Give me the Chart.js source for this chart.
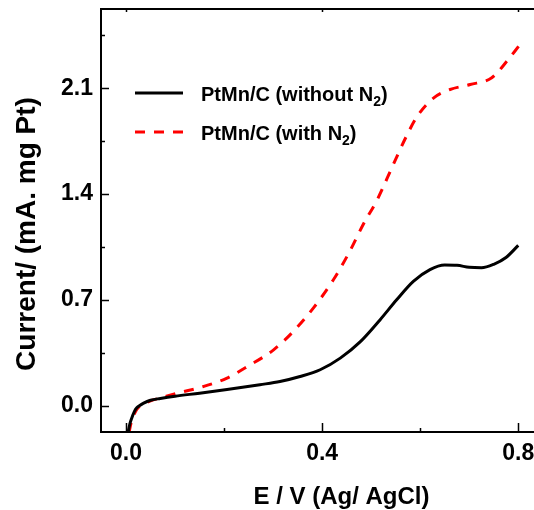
<!DOCTYPE html>
<html lang="en">
<head>
  <meta charset="UTF-8">
  <title>PtMn/C polarization curves</title>
  <script src="https://cdn.jsdelivr.net/npm/chart.js"></script>
  <style>
    body {
      margin: 0;
      overflow: hidden;
      background: #fff;
    }
    canvas {
      display: block;
    }
  </style>
</head>
<body>
  <canvas id="chart" width="590" height="510"></canvas>

  <script>
    // data: E (V vs Ag/AgCl) and current (mA / mg Pt)
    const seriesNames = ['PtMn/C (without N_2)', 'PtMn/C (with N_2)'];

    const withoutN2E = [0.004, 0.008, 0.012, 0.017, 0.022, 0.028, 0.035, 0.05, 0.07, 0.1, 0.15, 0.206,
      0.273, 0.314, 0.355, 0.396, 0.437, 0.478, 0.518, 0.552, 0.586, 0.62, 0.65, 0.675, 0.7, 0.725,
      0.75, 0.775, 0.8];
    const withoutN2I = [-0.18, -0.12, -0.08, -0.04, -0.015, 0.0, 0.014, 0.035, 0.047, 0.062, 0.082, 0.106,
      0.138, 0.159, 0.192, 0.237, 0.314, 0.423, 0.567, 0.7, 0.822, 0.9, 0.93, 0.928, 0.915, 0.912,
      0.935, 0.98, 1.06];

    const withN2E = [0.006, 0.01, 0.015, 0.022, 0.03, 0.04, 0.05, 0.07, 0.103, 0.158, 0.206, 0.25,
      0.301, 0.341, 0.382, 0.423, 0.457, 0.484, 0.512, 0.532, 0.552, 0.573, 0.593, 0.627, 0.661,
      0.702, 0.746, 0.777, 0.801];
    const withN2I = [-0.18, -0.12, -0.07, -0.025, 0.0, 0.016, 0.032, 0.05, 0.08, 0.126, 0.182, 0.263,
      0.369, 0.49, 0.645, 0.833, 1.025, 1.2, 1.36, 1.5, 1.645, 1.79, 1.91, 2.035, 2.092,
      2.125, 2.17, 2.28, 2.379];

    const xTicks = [0, 0.4, 0.8];
    const xMinorTicks = [0.2, 0.6];
    const yTicks = [0, 0.7, 1.4, 2.1];
    const yMinorTicks = [0.35, 1.05, 1.75, 2.45];
    const yTitle = 'Current/ (mA. mg Pt)';

    const FONT = '"Liberation Sans", Arial, sans-serif';

    function toPoints(xs, ys) {
      return xs.map((x, i) => ({ x: x, y: ys[i] }));
    }

    // frame, inward ticks, y title and the legend (with subscript)
    const framePlugin = {
      id: 'frame',
      afterDatasetsDraw(chart) {
        const ctx = chart.ctx;
        const a = chart.chartArea;
        const xs = chart.scales.x;
        const ys = chart.scales.y;
        ctx.save();
        ctx.strokeStyle = '#000';
        ctx.lineWidth = 2;
        ctx.strokeRect(a.left, a.top, a.right - a.left, a.bottom - a.top);

        ctx.lineWidth = 1.5;
        ctx.beginPath();
        xTicks.forEach(v => {
          const px = Math.round(xs.getPixelForValue(v)) + 0.5;
          ctx.moveTo(px, a.bottom); ctx.lineTo(px, a.bottom - 9);
          ctx.moveTo(px, a.top); ctx.lineTo(px, a.top + 3);
        });
        xMinorTicks.forEach(v => {
          const px = Math.round(xs.getPixelForValue(v)) + 0.5;
          ctx.moveTo(px, a.bottom); ctx.lineTo(px, a.bottom - 4);
        });
        yTicks.forEach(v => {
          const py = Math.round(ys.getPixelForValue(v)) + 0.5;
          ctx.moveTo(a.left, py); ctx.lineTo(a.left + 8, py);
        });
        yMinorTicks.forEach(v => {
          const py = Math.round(ys.getPixelForValue(v)) + 0.5;
          ctx.moveTo(a.left, py); ctx.lineTo(a.left + 4, py);
        });
        ctx.stroke();

        // y axis title, a little below the middle of the plot as in the original
        ctx.save();
        ctx.translate(27, 234);
        ctx.rotate(-Math.PI / 2);
        ctx.font = 'bold 28px ' + FONT;
        ctx.fillStyle = '#000';
        ctx.textAlign = 'center';
        ctx.textBaseline = 'middle';
        ctx.fillText(yTitle, 0, 0);
        ctx.restore();

        // legend
        const rows = [93, 132];
        chart.data.datasets.forEach((ds, i) => {
          const y = rows[i];
          ctx.strokeStyle = ds.borderColor;
          ctx.lineWidth = 3;
          ctx.setLineDash(ds.borderDash || []);
          ctx.beginPath();
          ctx.moveTo(135, y);
          ctx.lineTo(183, y);
          ctx.stroke();
          ctx.setLineDash([]);

          const parts = ds.label.split(/_(\d)/);
          let x = 201;
          ctx.fillStyle = '#000';
          ctx.textBaseline = 'alphabetic';
          ctx.textAlign = 'left';
          parts.forEach((p, k) => {
            const sub = k % 2 === 1;
            ctx.font = 'bold ' + (sub ? 14 : 20) + 'px ' + FONT;
            ctx.fillText(p, x, y + 8 + (sub ? 5 : 0));
            x += ctx.measureText(p).width;
          });
        });
        ctx.restore();
      }
    };

    new Chart(document.getElementById('chart'), {
      type: 'line',
      data: {
        datasets: [{
          label: seriesNames[0],
          data: toPoints(withoutN2E, withoutN2I),
          borderColor: '#000000',
          borderWidth: 3,
          pointRadius: 0,
          cubicInterpolationMode: 'monotone',
          fill: false
        }, {
          label: seriesNames[1],
          data: toPoints(withN2E, withN2I),
          borderColor: '#ff0000',
          borderWidth: 3,
          borderDash: [10, 9],
          pointRadius: 0,
          cubicInterpolationMode: 'monotone',
          fill: false
        }]
      },
      options: {
        responsive: false,
        animation: false,
        layout: { padding: { left: 0, top: 9, right: 8, bottom: 0 } },
        plugins: {
          legend: { display: false },
          tooltip: { enabled: false }
        },
        scales: {
          x: {
            type: 'linear',
            min: -0.051,
            max: 0.93,
            afterBuildTicks: s => { s.ticks = xTicks.map(v => ({ value: v })); },
            afterFit: s => { s.height = 78; s.paddingLeft = 0; s.paddingRight = 0; },
            grid: { display: false, drawTicks: false },
            border: { display: false },
            ticks: {
              autoSkip: false,
              maxRotation: 0,
              padding: 8,
              color: '#000',
              font: { family: FONT, size: 23, weight: 'bold' },
              callback: v => v.toFixed(1)
            },
            title: {
              display: true,
              text: 'E / V (Ag/ AgCl)',
              color: '#000',
              font: { family: FONT, size: 24, weight: 'bold' },
              padding: { top: 0, bottom: -2 }
            }
          },
          y: {
            min: -0.175,
            max: 2.625,
            afterBuildTicks: s => { s.ticks = yTicks.map(v => ({ value: v })); },
            afterFit: s => { s.width = 101; s.paddingTop = 0; s.paddingBottom = 0; },
            grid: { display: false, drawTicks: false },
            border: { display: false },
            ticks: {
              padding: 8,
              color: '#000',
              font: { family: FONT, size: 23, weight: 'bold' },
              callback: v => v.toFixed(1)
            },
            title: { display: false }
          }
        }
      },
      plugins: [framePlugin]
    });
  </script>
</body>
</html>
